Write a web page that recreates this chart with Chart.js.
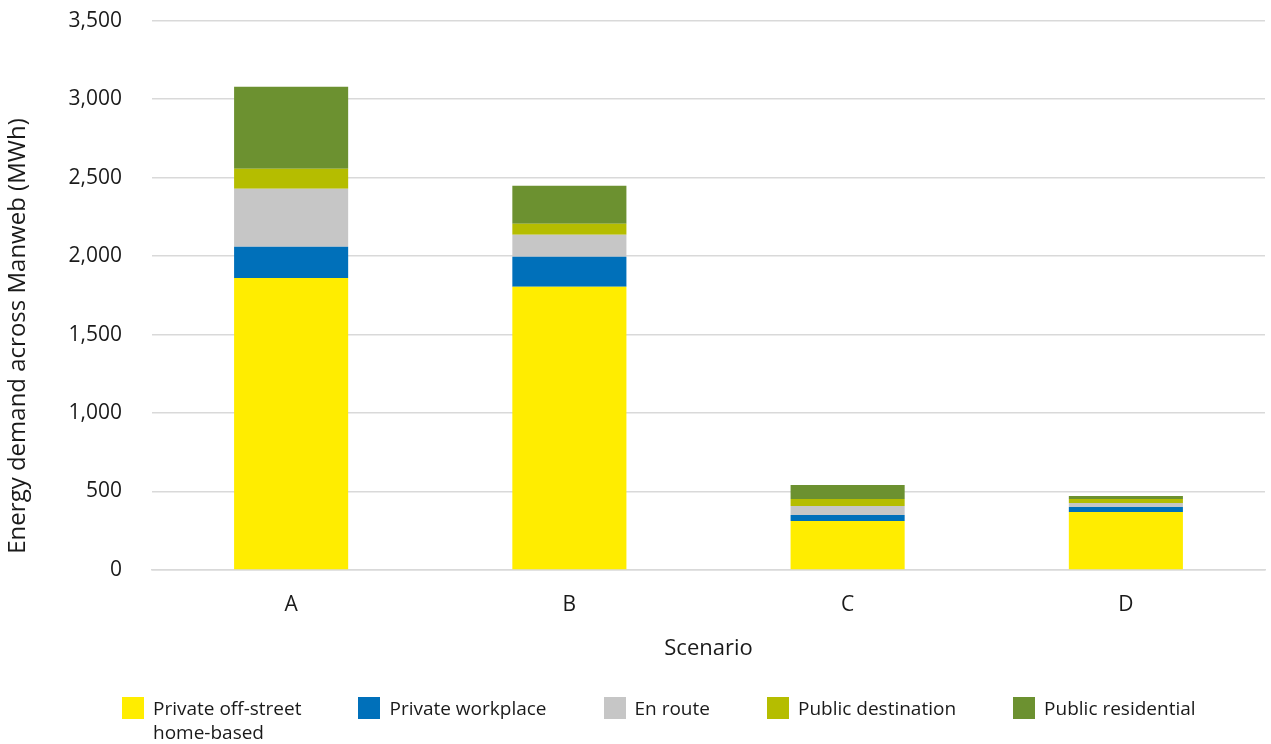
<!DOCTYPE html>
<html>
<head>
<meta charset="utf-8">
<script src="https://cdn.jsdelivr.net/npm/chart.js@4/dist/chart.umd.min.js"></script>
<style>
  html, body { margin: 0; padding: 0; background: #fff; }
  #wrap { position: relative; width: 1271px; height: 744px; }
  #legend {
    position: absolute; left: 122px; top: 697px;
    display: flex; gap: 57px;
    font-family: "Open Sans", sans-serif; font-size: 19px; color: #1a1a1a;
  }
  .item { display: flex; align-items: flex-start; }
  .box { width: 22px; height: 22px; margin-right: 9px; flex: none; }
  .txt { white-space: pre-line; line-height: 24px; margin-top: -1px; }
</style>
</head>
<body>
<div id="wrap">
  <canvas id="chart" width="1271" height="744"></canvas>
  <div id="legend"></div>
</div>
<script>
const scenarios = ["A", "B", "C", "D"];
const seriesNames = ["Private off-street\nhome-based", "Private workplace", "En route", "Public destination", "Public residential"];
const privateHome = [1861, 1804, 312, 370];
const privateWork = [198, 191, 39, 32];
const enRoute = [370, 141, 57, 25];
const publicDest = [127, 70, 45, 26];
const publicRes = [523, 242, 89, 19];
const seriesColors = ["#FFED00", "#0070BA", "#C6C6C6", "#B5BD00", "#6C9130"];
const yTitle = "Energy demand across Manweb (MWh)";

const seriesValues = [privateHome, privateWork, enRoute, publicDest, publicRes];
const textColor = "#1a1a1a";
const gridColor = "#d9d9d9";

const datasets = seriesValues.map((vals, i) => ({
    label: seriesNames[i],
    data: vals,
    backgroundColor: seriesColors[i],
    borderWidth: 0,
    categoryPercentage: 1,
    barPercentage: 0.41
}));

// y-axis title, drawn a bit lower than centre as in the original
const yTitlePlugin = {
    id: "yTitle",
    afterDraw(chart) {
        const ctx = chart.ctx;
        ctx.save();
        ctx.translate(18, 336);
        ctx.rotate(-Math.PI / 2);
        ctx.font = "500 24px 'Open Sans'";
        ctx.fillStyle = textColor;
        ctx.textAlign = "center";
        ctx.textBaseline = "middle";
        ctx.fillText(yTitle, 0, 0);
        ctx.restore();
    }
};

new Chart(document.getElementById("chart"), {
    type: "bar",
    data: { labels: scenarios, datasets: datasets },
    options: {
        responsive: false,
        animation: false,
        layout: { padding: { left: 4, right: 6, top: 0, bottom: 76 } },
        plugins: { legend: { display: false }, tooltip: { enabled: false } },
        scales: {
            x: {
                stacked: true,
                grid: { display: false, drawTicks: false },
                border: { color: gridColor, width: 1.5 },
                ticks: { color: textColor, padding: 22, font: { family: "Open Sans", size: 21, weight: 500 } },
                title: { display: true, text: "Scenario", color: textColor, padding: { top: 12, bottom: 6 },
                         font: { family: "Open Sans", size: 22, weight: 500 } },
                afterFit: s => { s.height = 98; }
            },
            y: {
                stacked: true,
                min: 0, max: 3500,
                ticks: { stepSize: 500, color: textColor, padding: 8, font: { family: "Open Sans", size: 21, weight: 500 },
                         callback: v => v.toLocaleString("en-US") },
                grid: { color: gridColor, lineWidth: 1.5, drawTicks: true, tickLength: 22, tickColor: "transparent" },
                border: { display: false },
                afterFit: s => { s.width = 148; }
            }
        }
    },
    plugins: [yTitlePlugin]
});

const legend = document.getElementById("legend");
seriesNames.forEach((name, i) => {
    const item = document.createElement("div");
    item.className = "item";
    item.innerHTML = '<span class="box" style="background:' + seriesColors[i] + '"></span><span class="txt"></span>';
    item.querySelector(".txt").textContent = name;
    legend.appendChild(item);
});
</script>
</body>
</html>
